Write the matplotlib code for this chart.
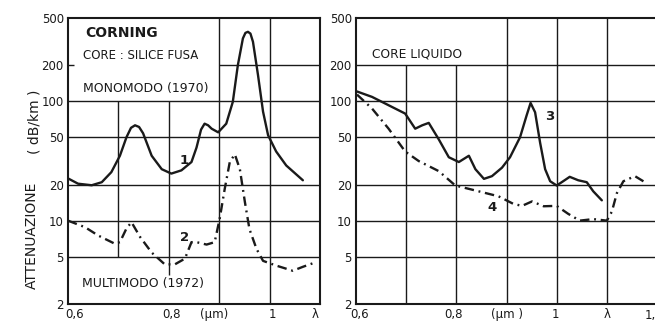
import matplotlib
matplotlib.use('Agg')
import matplotlib.pyplot as plt

# curva 1: monomodo 1970 (silice fusa)
wl1 = [0.600, 0.620, 0.647, 0.667, 0.686, 0.703, 0.716, 0.725, 0.733, 0.741, 0.749, 0.766,
       0.786, 0.805, 0.825, 0.845, 0.855, 0.864, 0.871, 0.878, 0.885, 0.898, 0.914, 0.927,
       0.937, 0.947, 0.952, 0.957, 0.962, 0.967, 0.977, 0.987, 0.997, 1.013, 1.033, 1.066]
att1 = [22.6, 20.4, 19.8, 21.0, 25.5, 35, 50, 60, 63, 61, 54, 35,
        27, 24.8, 26.4, 31, 41, 58, 65, 63, 59, 55, 65, 99,
        201, 337, 375, 383, 370, 316, 166, 82, 52, 38, 29, 21.8]

# curva 2: multimodo 1972
wl2 = [0.600, 0.634, 0.660, 0.693, 0.703, 0.716, 0.726, 0.743, 0.766, 0.792, 0.812, 0.832,
       0.845, 0.855, 0.875, 0.891, 0.901, 0.911, 0.921, 0.931, 0.941, 0.951, 0.960, 0.974,
       0.987, 1.013, 1.046, 1.066, 1.093]
att2 = [10.0, 8.8, 7.5, 6.4, 6.6, 8.6, 9.7, 7.3, 5.4, 4.3, 4.3, 4.8,
        6.6, 6.6, 6.3, 6.6, 10.4, 18.5, 31, 36, 27, 14.3, 8.5, 5.8,
        4.6, 4.2, 3.8, 4.1, 4.5]

# curva 3: core liquido
wl3 = [0.602, 0.632, 0.658, 0.698, 0.718, 0.732, 0.745, 0.765, 0.785, 0.805, 0.825, 0.838,
       0.855, 0.871, 0.891, 0.907, 0.927, 0.940, 0.948, 0.957, 0.967, 0.977, 0.987, 1.000,
       1.013, 1.026, 1.043, 1.060, 1.073, 1.090]
att3 = [121, 109, 96, 79, 59, 63, 66, 48, 34, 31, 35, 27,
        22.4, 23.6, 27.8, 34, 50, 76, 97, 81, 45, 27, 21.4, 19.7,
        21.4, 23.3, 21.8, 21, 17.6, 14.8]

# curva 4: core liquido
wl4 = [0.602, 0.632, 0.665, 0.698, 0.725, 0.765, 0.798, 0.831, 0.884, 0.914, 0.931, 0.951,
       0.974, 1.000, 1.023, 1.046, 1.073, 1.100, 1.110, 1.120, 1.133, 1.156, 1.180]
att4 = [114, 87, 59, 38, 31.6, 26, 19.7, 18.2, 16, 13.8, 13.3, 14.5,
        13.2, 13.3, 11.4, 10.0, 10.3, 10.0, 11.9, 17, 21.4, 23.6, 20.5]

yticks = [2, 5, 10, 20, 50, 100, 200, 500]
ytick_labels = ['2', '5', '10', '20', '50', '100', '200', '500']

plt.rcParams['font.family'] = ['DejaVu Sans']
ink = '#1a1a1a'
dashdot = (0, (4, 2, 0.8, 2))

fig = plt.figure(figsize=(6.55, 3.25), dpi=100)
ax1 = fig.add_axes([68 / 655, 21 / 325, 252 / 655, 286 / 325])
ax2 = fig.add_axes([356 / 655, 21 / 325, 299 / 655, 286 / 325])

for ax in (ax1, ax2):
    ax.set_yscale('log')
    ax.set_ylim(2, 500)
    ax.set_yticks(yticks)
    ax.set_yticklabels(ytick_labels)
    ax.minorticks_off()
    ax.tick_params(length=0, labelsize=8.5, colors=ink, pad=3)
    for s in ax.spines.values():
        s.set_linewidth(1.5)
        s.set_color(ink)

# griglia pannello sinistro (interrotta dalle scritte)
ax1.set_xlim(0.6, 1.1)
ax1.vlines([0.7], 5, 100, color=ink, lw=1.0)
ax1.vlines([0.8], 3.5, 100, color=ink, lw=1.0)
ax1.vlines([0.9, 1.0], 2, 500, color=ink, lw=1.0)
ax1.hlines([5, 10, 20, 50, 100], 0.6, 1.1, color=ink, lw=1.0)
ax1.hlines([200], 0.9, 1.1, color=ink, lw=1.0)
ax1.hlines([200], 0.6, 0.612, color=ink, lw=1.0)

# griglia pannello destro
ax2.set_xlim(0.6, 1.196)
ax2.spines['right'].set_visible(False)
ax2.vlines([0.7, 0.8], 2, 200, color=ink, lw=1.0)
ax2.vlines([0.9, 1.0, 1.1], 2, 500, color=ink, lw=1.0)
ax2.hlines([5, 10, 20, 50, 100, 200], 0.6, 1.2, color=ink, lw=1.0)

ax1.plot(wl1, att1, color=ink, lw=1.7, solid_capstyle='round')
ax1.plot(wl2, att2, color=ink, lw=1.7, linestyle=dashdot)
ax2.plot(wl3, att3, color=ink, lw=1.7, solid_capstyle='round')
ax2.plot(wl4, att4, color=ink, lw=1.7, linestyle=dashdot)

ax1.set_xticks([0.614, 0.806, 0.889, 1.005, 1.09])
ax1.set_xticklabels(['0,6', '0,8', '(µm)', '1', 'λ'])
ax2.set_xticks([0.608, 0.794, 0.9, 0.998, 1.1])
ax2.set_xticklabels(['0,6', '0,8', '(µm )', '1', 'λ'])
fig.text(645 / 655, 9 / 325, '1,', fontsize=8.5, color=ink, va='center', ha='left')

# scritte pannello sinistro
t = ax1.transAxes
ax1.text(0.067, 0.946, 'CORNING', transform=t, fontsize=10, fontweight='bold', color=ink, va='center')
ax1.text(0.06, 0.87, 'CORE : SILICE FUSA', transform=t, fontsize=8.5, color=ink, va='center')
ax1.text(0.06, 0.755, 'MONOMODO (1970)', transform=t, fontsize=9, color=ink, va='center')
ax1.text(0.056, 0.073, 'MULTIMODO (1972)', transform=t, fontsize=9, color=ink, va='center')
ax1.text(0.444, 0.503, '1', transform=t, fontsize=9.5, fontweight='bold', color=ink, va='center')
ax1.text(0.444, 0.231, '2', transform=t, fontsize=9.5, fontweight='bold', color=ink, va='center')

# scritte pannello destro
t = ax2.transAxes
ax2.text(0.054, 0.874, 'CORE LIQUIDO', transform=t, fontsize=8.8, color=ink, va='center')
ax2.text(0.632, 0.654, '3', transform=t, fontsize=9.5, fontweight='bold', color=ink, va='center')
ax2.text(0.438, 0.339, '4', transform=t, fontsize=9.5, fontweight='bold', color=ink, va='center')

fig.text(32 / 655, 1 - 235 / 325, 'ATTENUAZIONE', rotation=90, fontsize=10, color=ink,
         ha='center', va='center')
fig.text(34 / 655, 1 - 122 / 325, '( dB/km )', rotation=90, fontsize=10, color=ink,
         ha='center', va='center')

fig.savefig('out.png', dpi=100, facecolor='white')
